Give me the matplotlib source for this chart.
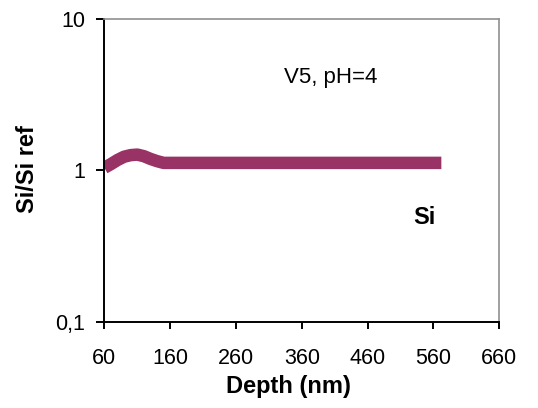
import matplotlib
matplotlib.use("Agg")
import matplotlib.pyplot as plt
from matplotlib.ticker import FixedLocator, FixedFormatter, NullLocator

plt.rcParams['font.family'] = ['Liberation Sans', 'DejaVu Sans']

# Si/Si ref profile versus depth
depth = [60, 70, 80, 90, 100, 110, 120, 130, 140, 150, 160, 200, 300, 400, 500, 572]
si_ratio = [1.04, 1.10, 1.17, 1.23, 1.26, 1.27, 1.24, 1.19, 1.15, 1.12, 1.12, 1.12, 1.12, 1.12, 1.12, 1.12]

x_ticks = [60, 160, 260, 360, 460, 560, 660]
y_ticks = [0.1, 1, 10]
y_tick_labels = ["0,1", "1", "10"]

fig = plt.figure(figsize=(5.38, 4.08), dpi=100)
ax = fig.add_axes([0.194, 0.211, 0.734, 0.743])

ax.plot(depth, si_ratio, color="#993366", lw=9, solid_capstyle="butt",
        solid_joinstyle="round")

ax.set_yscale("log")
ax.set_xlim(60, 660)
ax.set_ylim(0.1, 10)
ax.xaxis.set_major_locator(FixedLocator(x_ticks))
ax.yaxis.set_major_locator(FixedLocator(y_ticks))
ax.yaxis.set_major_formatter(FixedFormatter(y_tick_labels))
ax.yaxis.set_minor_locator(NullLocator())

for side in ["left", "bottom"]:
    ax.spines[side].set_color("black")
    ax.spines[side].set_linewidth(1.4)
for side in ["top", "right"]:
    ax.spines[side].set_color("#909090")
    ax.spines[side].set_linewidth(1.2)

ax.tick_params(axis="x", direction="out", length=5, width=1.4, labelsize=15.5, pad=14)
ax.tick_params(axis="y", direction="out", length=6, width=1.4, labelsize=15.5, pad=8)

ax.set_xlabel("Depth (nm)", fontsize=17, fontweight="bold")
ax.xaxis.set_label_coords(0.465, -0.175)
ax.set_ylabel("Si/Si ref", fontsize=17, fontweight="bold")
ax.yaxis.set_label_coords(-0.165, 0.505)

ax.text(0.572, 0.805, "V5, pH=4", transform=ax.transAxes, fontsize=16,
        ha="center", va="center")
ax.text(0.81, 0.343, "Si", transform=ax.transAxes, fontsize=17,
        fontweight="bold", ha="center", va="center")

fig.savefig("out.png", dpi=100)
